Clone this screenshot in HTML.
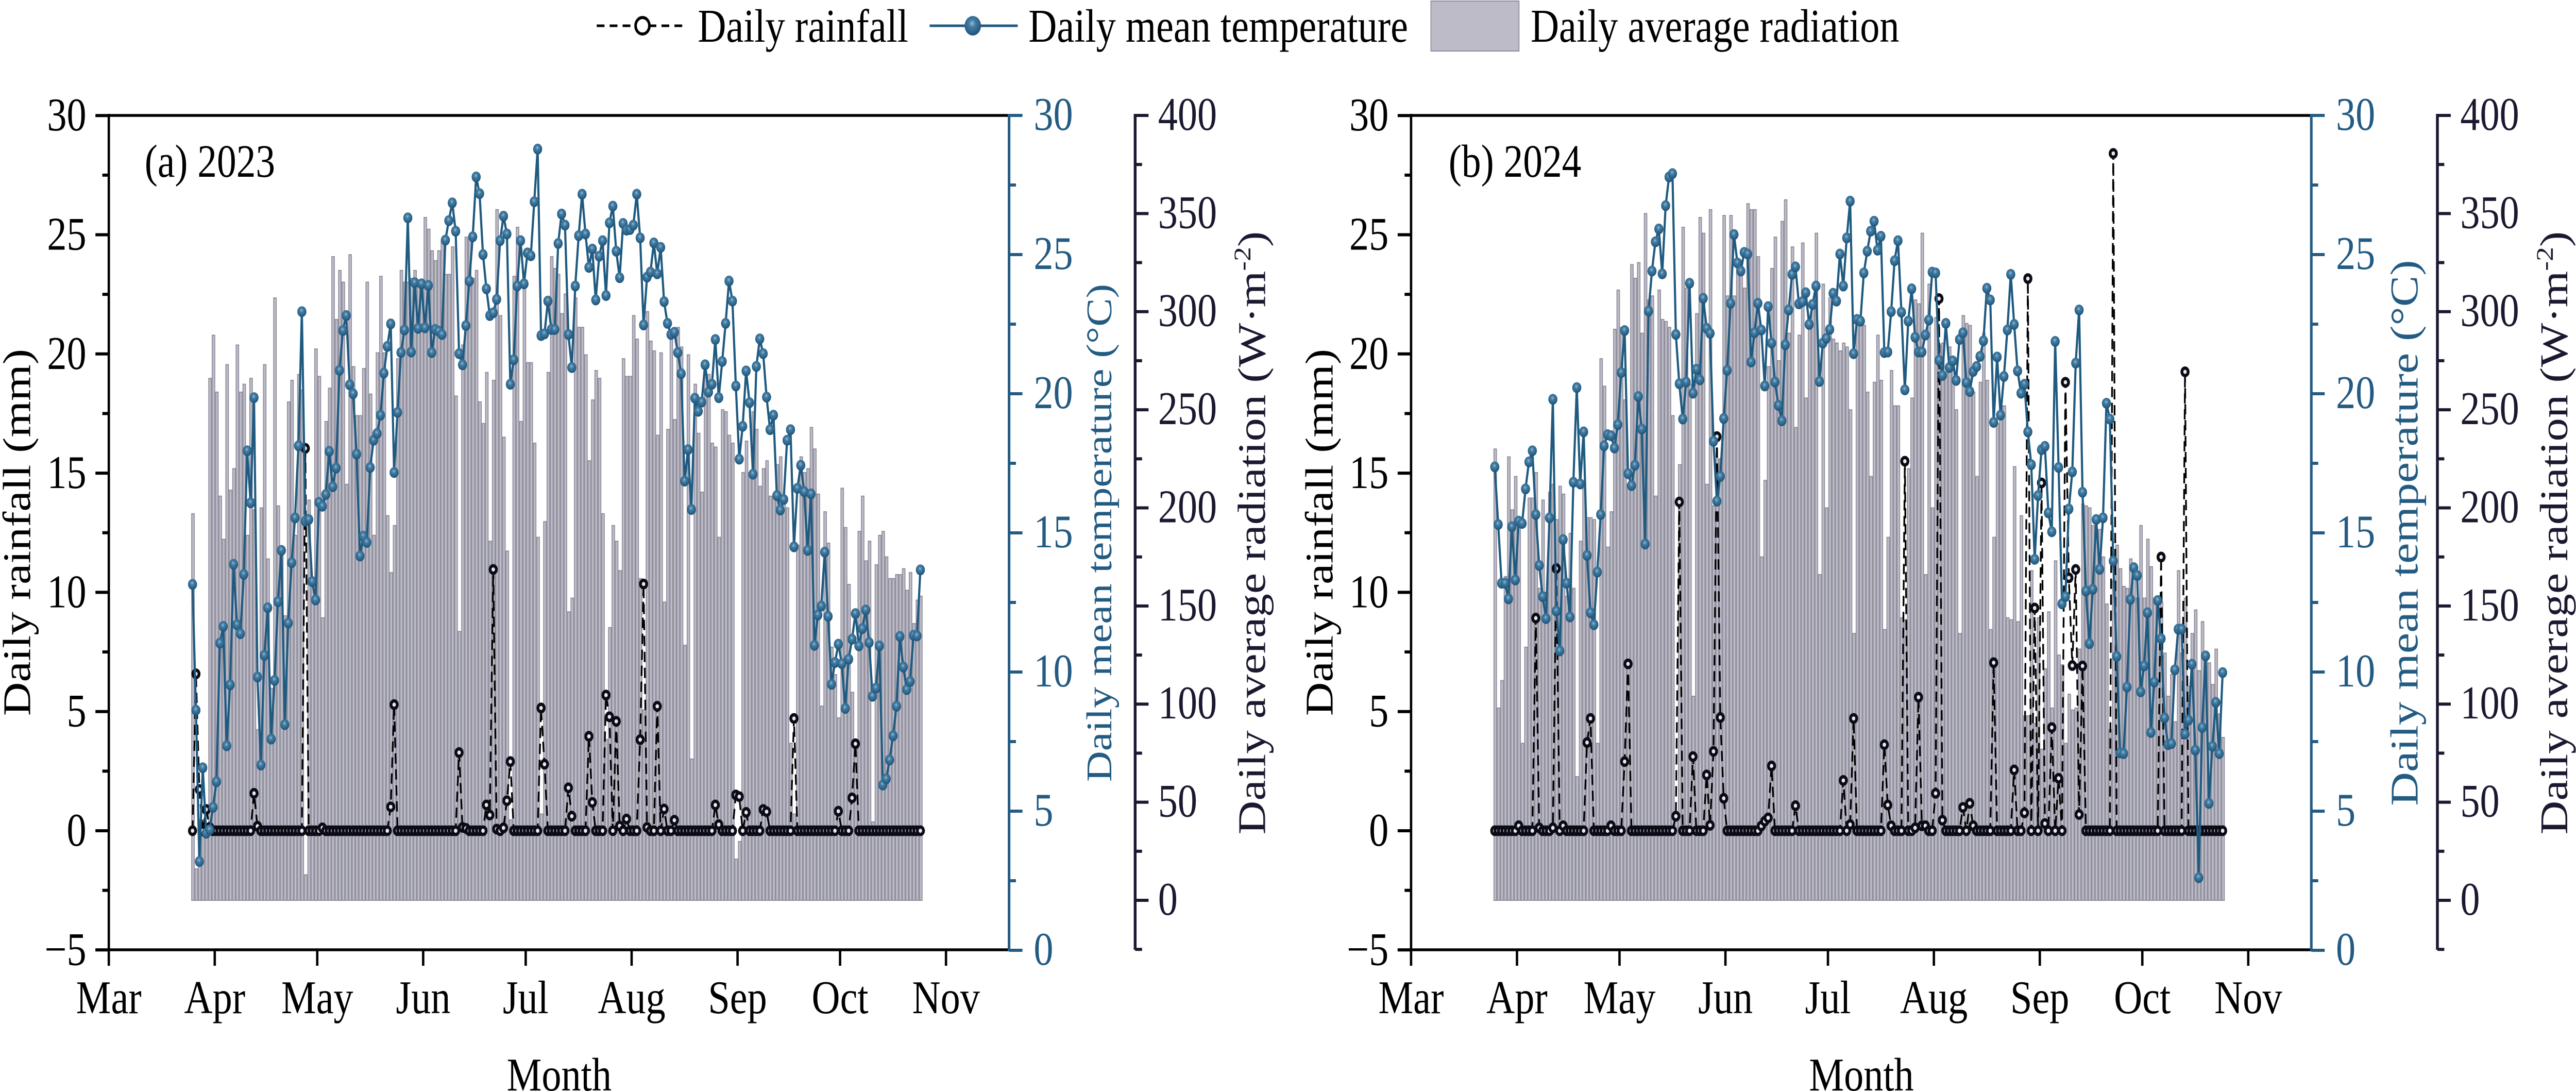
<!DOCTYPE html>
<html lang="en">
<head>
<meta charset="utf-8">
<title>Daily rainfall, temperature and radiation 2023-2024</title>
<style>
html,body{margin:0;padding:0;background:#fff;width:100vw;height:100vh;overflow:hidden;}
svg{display:block;width:100vw;height:100vh;overflow:hidden;}
text{font-family:"Liberation Serif",serif;}
</style>
</head>
<body>
<svg id="chart" xmlns="http://www.w3.org/2000/svg" viewBox="0 0 5966 2117" preserveAspectRatio="none">
<defs>
<radialGradient id="sphere" cx="0.46" cy="0.38" r="0.62">
<stop offset="0" stop-color="#9dbdd0"/>
<stop offset="0.3" stop-color="#447fa6"/>
<stop offset="1" stop-color="#1d5176"/>
</radialGradient>
</defs>
<rect x="0" y="0" width="5966" height="2117" fill="#ffffff"/>

<g>
<g>
<line x1="1382" y1="50" x2="1592" y2="50" stroke="#000" stroke-width="5" stroke-dasharray="18 12"/>
<circle cx="1488" cy="50" r="16" fill="#fff" stroke="#000" stroke-width="6"/>
<text x="1616" y="81" font-size="91" fill="#000">Daily rainfall</text>
</g>
<g>
<line x1="2153" y1="50" x2="2357" y2="50" stroke="#1f5a80" stroke-width="5"/>
<circle cx="2253" cy="50" r="19" fill="url(#sphere)"/>
<text x="2382" y="81" font-size="91" fill="#000">Daily mean temperature</text>
</g>
<g>
<rect x="3314" y="2" width="204" height="97" fill="#bdbbc8" stroke="#8e8c99" stroke-width="2"/>
<text x="3545" y="81" font-size="91" fill="#000">Daily average radiation</text>
</g>
</g>

<g id="panel-a">
<g id="plot-a"></g>
<text x="335" y="343" font-size="90" fill="#000">(a) 2023</text>
<text transform="translate(70,1033) rotate(-90)" text-anchor="middle" font-size="91" fill="#000">Daily rainfall (mm)</text>
<text transform="translate(2574,1034) rotate(-90)" text-anchor="middle" font-size="83" fill="#235b82">Daily mean temperature (°C)</text>
<text transform="translate(2930,1034) rotate(-90)" text-anchor="middle" font-size="91" fill="#1a1930">Daily average radiation (W·m<tspan font-size="56" dy="-34">-2</tspan><tspan dy="34">)</tspan></text>
<text x="1295" y="2116" text-anchor="middle" font-size="91" fill="#000">Month</text>
</g>

<g id="panel-b" transform="translate(3016,0)">
<g id="plot-b"></g>
<text x="339" y="343" font-size="90" fill="#000">(b) 2024</text>
<text transform="translate(70,1033) rotate(-90)" text-anchor="middle" font-size="91" fill="#000">Daily rainfall (mm)</text>
<text transform="translate(2583,1034) rotate(-90)" text-anchor="middle" font-size="91" fill="#235b82">Daily mean temperature (°C)</text>
<text transform="translate(2930,1034) rotate(-90)" text-anchor="middle" font-size="91" fill="#1a1930">Daily average radiation (W·m<tspan font-size="56" dy="-34">-2</tspan><tspan dy="34">)</tspan></text>
<text x="1295" y="2116" text-anchor="middle" font-size="91" fill="#000">Month</text>
</g>
</svg>

<script>
const monthLabels = ["Mar","Apr","May","Jun","Jul","Aug","Sep","Oct","Nov"];
const monthStartDays = [0,31,61,92,122,153,184,214,245];
const firstDataDay = 24.5;
const rainTicks = [-5,0,5,10,15,20,25,30];
const tempTicks = [0,5,10,15,20,25,30];
const radTicks = [0,50,100,150,200,250,300,350,400];

const rain2023 = [
0,6.58,1.73,0,.89,.14,0,0,0,0,
0,0,0,0,0,0,0,0,1.57,.19,
0,0,0,0,0,0,0,0,0,0,
0,0,0,16.04,0,0,0,0,.12,0,
0,0,0,0,0,0,0,0,0,0,
0,0,0,0,0,0,0,0,1,5.29,
0,0,0,0,0,0,0,0,0,0,
0,0,0,0,0,0,0,0,3.28,.14,
.1,0,0,0,0,0,1.08,.66,10.96,.07,
0,.12,1.26,2.9,0,0,0,0,0,0,
0,0,5.15,2.79,0,0,0,0,0,0,
1.8,.61,0,0,0,0,3.96,1.19,0,0,
0,5.69,4.78,0,4.59,.2,0,.49,0,0,
0,3.82,10.35,.14,0,0,5.22,0,.91,0,
0,.44,0,0,0,0,0,0,0,0,
0,0,0,1.08,.26,0,0,0,0,1.5,
1.43,0,.77,0,0,0,0,.89,.8,0,
0,0,0,0,0,0,4.71,0,0,0,
0,0,0,0,0,0,0,0,0,.82,
0,0,0,1.38,3.65,0,0,0,0,0,
0,0,0,0,0,0,0,0,0,0,
0,0,0,0];

const temp2023 = [
13.15,8.63,3.19,6.56,4.21,4.33,5.14,6.06,11.04,11.64,
7.35,9.54,13.87,11.7,11.38,13.51,17.95,16.08,19.86,9.82,
6.66,10.6,12.31,7.59,9.7,12.53,14.37,8.11,11.76,13.93,
15.54,18.13,22.95,15.42,15.48,13.25,12.59,16.1,15.96,16.38,
17.93,16.66,17.33,20.84,22.27,22.81,20.32,20,17.83,14.17,
14.88,14.66,17.35,18.33,18.57,19.23,20.74,21.7,22.51,17.17,
19.33,21.48,22.29,26.32,21.5,23.99,22.35,23.95,22.37,23.89,
21.48,22.31,22.25,22.13,25.52,26.22,26.86,25.84,21.44,21.04,
22.45,24.05,25.64,27.79,27.19,25,23.77,22.81,22.91,23.39,
25.5,26.38,25.74,20.34,21.22,23.87,25.5,23.95,25.06,24.96,
26.9,28.79,22.09,22.15,23.33,22.31,22.31,25.4,26.46,26.06,
22.13,20.94,23.87,25.68,27.17,25.74,24.54,25.2,23.37,24.94,
25.5,23.53,26.14,26.74,25.12,24.17,26.12,25.88,25.9,26.06,
27.17,25.6,22.47,24.19,24.37,25.42,24.31,25.26,23.31,22.53,
22.13,22.21,21.48,20.72,16.86,17.99,15.84,19.84,19.37,19.7,
21.04,20.06,20.34,21.95,19.86,21.16,22.53,24.05,23.33,20.28,
17.65,18.83,20.82,19.68,17.11,20.98,21.97,21.44,19.88,18.71,
19.23,16.34,15.82,16.2,18.33,18.71,14.5,16.6,17.43,16.48,
14.37,16.4,10.96,12.05,12.37,14.31,12,9.56,10.34,11,
10.3,8.69,10.46,11.18,12.1,10.94,11.56,12.23,11.06,9.13,
9.42,10.94,5.94,6.16,6.84,7.71,8.77,11.28,10.18,9.37,
9.66,11.32,11.3,13.67];

const rad2023 = [
197,16,41,41,38,266,288,259,206,184,
273,209,220,283,259,263,186,266,199,87,
200,273,174,108,307,201,179,145,254,265,
186,268,260,13,204,164,281,267,144,244,
261,328,296,321,315,212,329,272,247,247,
271,315,258,186,279,318,279,196,167,191,
276,321,315,315,317,321,314,314,348,342,
331,326,331,336,319,319,333,257,137,283,
338,337,317,321,254,243,269,183,265,352,
298,236,178,41,318,343,244,315,274,274,
233,185,44,193,269,328,322,319,299,309,
147,154,307,292,292,278,224,255,270,266,
197,82,139,191,183,168,276,267,267,298,
286,164,97,300,285,280,237,279,152,240,
289,245,292,282,130,278,72,263,238,208,
269,268,233,231,185,250,249,237,233,21,
30,218,234,218,249,240,211,220,224,206,
206,222,226,203,200,80,44,181,226,218,
220,241,230,207,99,198,182,129,115,93,
210,190,161,106,80,188,206,173,183,40,
171,186,188,175,164,164,166,166,169,158,
167,141,153,155];

const rain2024 = [
0,0,0,0,0,0,0,.21,0,0,
0,0,8.92,.12,0,0,0,.12,11,0,
.21,0,0,0,0,0,0,3.7,4.71,0,
0,0,0,0,.21,0,0,0,2.9,7,
0,0,0,0,0,0,0,0,0,0,
0,0,0,.61,13.79,0,0,0,3.11,0,
0,0,2.34,.23,3.33,16.53,4.75,1.36,0,0,
0,0,0,0,0,0,0,0,.2,.4,
.54,2.72,0,0,0,0,0,0,1.05,0,
0,0,0,0,0,0,0,0,0,0,
0,0,2.11,0,.26,4.71,0,0,0,0,
0,0,0,0,3.61,1.08,.21,0,0,0,
15.5,0,0,.12,5.6,.21,.21,0,0,1.57,
22.32,.44,0,0,0,0,0,.98,0,1.15,
.21,0,0,0,0,0,7.05,0,0,0,
0,0,2.55,0,0,.75,23.16,0,9.34,0,
14.59,.3,0,4.33,0,2.2,0,18.81,10.61,6.93,
10.96,.68,6.91,0,0,0,0,0,0,0,
0,28.41,0,0,0,0,0,0,0,0,
0,0,0,0,0,11.48,0,0,0,0,
0,0,19.25,0,0,0,0,0,0,0,
0,0,0,0];

const temp2024 = [
17.37,15.3,13.19,13.19,12.63,15.22,13.31,15.42,15.34,16.58,
17.55,17.95,15.66,13.83,12.71,11.92,15.54,19.8,12.19,10.76,
14.76,13.19,11.98,16.82,20.22,16.76,18.63,14.19,12.13,11.7,
13.59,15.66,18.13,18.53,18.49,18.05,18.89,20.76,22.27,17.13,
16.7,17.43,19.9,18.73,14.6,22.97,24.41,25.46,25.92,24.31,
26.76,27.79,27.91,22.13,20.36,19.09,20.42,23.97,20.02,20.88,
20.5,23.43,22.35,22.17,18.29,16.14,17.03,19.11,20.84,23.25,
25.72,24.7,24.41,25.08,25.02,21.14,22.19,23.25,22.29,20.28,
23.13,21.82,20.42,19.58,19.03,21.76,23.01,24.29,24.56,23.23,
23.31,23.63,22.49,23.21,23.87,20.44,21.82,21.99,22.31,23.61,
23.33,25.02,23.87,25.6,26.92,21.44,22.67,22.61,24.34,25.12,
25.84,26.2,25.16,25.66,21.48,21.5,22.95,24.78,25.5,22.93,
20.14,22.61,23.77,22.03,21.5,21.5,22.11,22.65,24.37,24.34,
21.2,20.66,22.53,20.94,21.18,20.48,21.95,22.19,20.4,20.08,
20.8,20.98,21.34,21.9,23.79,23.37,18.97,21.32,19.23,20.62,
22.29,24.29,22.49,20.82,20.02,20.34,18.63,17.45,14.05,16.34,
17.99,18.11,15.72,15.04,21.88,17.35,12.45,12.71,15.86,17.19,
21.1,23.01,16.46,12.91,11.02,12.97,15.48,13.69,15.54,19.66,
19.09,13.99,10.56,7.09,7.07,9.46,12.61,13.75,13.47,9.29,
10.22,12.13,7.83,9.64,12.57,11.2,8.35,7.39,7.43,10.08,
11.54,11.54,7.77,8.27,10.28,7.19,2.61,8.01,10.58,5.28,
7.33,8.91,7.07,9.98];

const rad2024 = [
230,98,112,165,226,199,216,195,80,129,
205,205,218,159,204,157,208,212,194,211,
207,155,187,159,63,183,210,195,195,194,
80,276,262,180,198,291,311,292,255,212,
324,317,325,289,350,306,308,206,311,296,
295,292,247,43,222,343,312,263,104,299,
348,340,212,352,201,225,225,349,308,349,
308,326,326,312,355,352,352,328,175,214,
272,322,338,275,346,357,289,333,241,288,
335,256,294,303,340,166,314,200,307,286,
284,280,284,282,250,136,297,294,293,259,
216,264,288,265,138,185,270,252,252,144,
143,220,256,306,304,340,166,314,200,297,
283,284,269,282,277,250,136,298,294,293,
259,216,264,289,265,138,185,243,252,252,
144,143,221,142,196,94,94,168,90,144,
77,118,147,98,173,125,120,80,105,97,
98,128,202,201,200,191,189,189,175,151,
87,163,181,169,160,159,174,171,154,191,
154,184,170,154,149,152,126,104,115,91,
168,126,154,109,136,148,117,142,122,121,
110,128,95,83];

const LEFT = 252, RIGHT = 2337, TOP = 224, BOTTOM = 1843, RAD_AXIS = 2629;
const TEMP_COLOR = "#235b82", RAD_COLOR = "#1a1930", SVGNS = "http://www.w3.org/2000/svg";

function xDay(d){ return LEFT + d * 7.914; }
function yRain(v){ return 1612 - v * 46.26; }
function yTemp(v){ return 1844 - v * 54; }
function yRad(v){ return 1747 - v * 3.8075; }

function makeLine(parent, x1, y1, x2, y2, color, width){
  const l = document.createElementNS(SVGNS, "line");
  l.setAttribute("x1", x1);
  l.setAttribute("y1", y1);
  l.setAttribute("x2", x2);
  l.setAttribute("y2", y2);
  l.setAttribute("stroke", color);
  l.setAttribute("stroke-width", width);
  parent.appendChild(l);
  return l;
}
function makeText(parent, x, y, str, color, anchor){
  const t = document.createElementNS(SVGNS, "text");
  t.setAttribute("x", x);
  t.setAttribute("y", y);
  t.setAttribute("font-size", 91);
  t.setAttribute("fill", color);
  t.setAttribute("text-anchor", anchor);
  t.textContent = str;
  parent.appendChild(t);
  return t;
}
function pathFrom(values, scale){
  let d = "";
  values.forEach(function(v, i){
    d += (i ? "L" : "M") + xDay(firstDataDay + i).toFixed(1) + " " + scale(v).toFixed(1);
  });
  return d;
}

function drawAxes(g){
  const frameTop = makeLine(g, LEFT - 2.5, TOP, RIGHT, TOP, "#000", 5.5);
  
  
  const frameBottom = makeLine(g, LEFT - 31, BOTTOM, RIGHT, BOTTOM, "#000", 5.5);
  
  
  const leftSpine = makeLine(g, LEFT, TOP - 3, LEFT, BOTTOM + 2, "#000", 5.5);
  
  

  monthLabels.forEach(function(m, i){
    const x = xDay(monthStartDays[i]);
    const tick = makeLine(g, x, BOTTOM, x, BOTTOM + 31, "#000", 5.5);
    
    
    const label = makeText(g, x, 1966, m, "#000", "middle");
    
    
  });

  rainTicks.forEach(function(v, i){
    const y = yRain(v);
    const tick = makeLine(g, LEFT - 31, y, LEFT, y, "#000", 6);
    
    
    const label = makeText(g, 200, y + 29, v < 0 ? "\u2212" + (-v) : String(v), "#000", "end");
    
    
    if (i < rainTicks.length - 1){
      const ym = yRain((v + rainTicks[i + 1]) / 2);
      const minor = makeLine(g, LEFT - 15, ym, LEFT, ym, "#000", 6);
      
      
    }
  });

  const tempSpine = makeLine(g, RIGHT, TOP - 3, RIGHT, BOTTOM + 3, TEMP_COLOR, 6);
  
  
  tempTicks.forEach(function(v, i){
    const y = yTemp(v);
    const tick = makeLine(g, RIGHT, y, RIGHT + 31, y, TEMP_COLOR, 6);
    
    
    const label = makeText(g, 2394, y + 28, String(v), TEMP_COLOR, "start");
    
    
    if (i < tempTicks.length - 1){
      const ym = yTemp((v + tempTicks[i + 1]) / 2);
      const minor = makeLine(g, RIGHT, ym, RIGHT + 16, ym, TEMP_COLOR, 6);
      
      
    }
  });

  const radSpine = makeLine(g, RAD_AXIS, TOP - 3, RAD_AXIS, BOTTOM, RAD_COLOR, 6.5);
  
  
  radTicks.forEach(function(v, i){
    const y = yRad(v);
    const tick = makeLine(g, RAD_AXIS, y, RAD_AXIS + 31, y, RAD_COLOR, 6);
    
    
    const label = makeText(g, 2682, y + 28, String(v), RAD_COLOR, "start");
    
    
    const step = i < radTicks.length - 1 ? radTicks[i + 1] - v : 0;
    if (step){
      const ym = yRad(v + step / 2);
      const minor = makeLine(g, RAD_AXIS, ym, RAD_AXIS + 16, ym, RAD_COLOR, 6);
      
      
    }
  });
  const lowest = yRad(radTicks[0] - (radTicks[1] - radTicks[0]) / 2);
  const bottomMinor = makeLine(g, RAD_AXIS, lowest, RAD_AXIS + 16, lowest, RAD_COLOR, 6);
  
  
}

function drawSeries(g, rain, temp, rad){
  rad.forEach(function(v, i){
    const bar = document.createElementNS(SVGNS, "rect");
    
    
    bar.setAttribute("x", (xDay(firstDataDay + i) + 1 - 3).toFixed(1));
    bar.setAttribute("y", yRad(v).toFixed(1));
    bar.setAttribute("width", 6);
    bar.setAttribute("height", (yRad(0) - yRad(v)).toFixed(1));
    bar.setAttribute("fill", "#bdbcc8");
    bar.setAttribute("stroke", "#8f8e9b");
    bar.setAttribute("stroke-width", 2);
    g.appendChild(bar);
  });

  const rainPath = document.createElementNS(SVGNS, "path");
  
  
  rainPath.setAttribute("d", pathFrom(rain, yRain));
  rainPath.setAttribute("fill", "none");
  rainPath.setAttribute("stroke", "#000");
  rainPath.setAttribute("stroke-width", 4);
  rainPath.setAttribute("stroke-dasharray", "20 11");
  g.appendChild(rainPath);

  rain.forEach(function(v, i){
    const dot = document.createElementNS(SVGNS, "circle");
    
    
    dot.setAttribute("cx", xDay(firstDataDay + i).toFixed(1));
    dot.setAttribute("cy", yRain(v).toFixed(1));
    dot.setAttribute("r", 7.25);
    dot.setAttribute("fill", "#e9e9ec");
    dot.setAttribute("stroke", "#0b0b16");
    dot.setAttribute("stroke-width", 6.5);
    g.appendChild(dot);
  });

  const tempPath = document.createElementNS(SVGNS, "path");
  
  
  tempPath.setAttribute("d", pathFrom(temp, yTemp));
  tempPath.setAttribute("fill", "none");
  tempPath.setAttribute("stroke", "#1f5a80");
  tempPath.setAttribute("stroke-width", 5);
  g.appendChild(tempPath);

  temp.forEach(function(v, i){
    const dot = document.createElementNS(SVGNS, "circle");
    
    
    dot.setAttribute("cx", xDay(firstDataDay + i).toFixed(1));
    dot.setAttribute("cy", yTemp(v).toFixed(1));
    dot.setAttribute("r", 10.5);
    dot.setAttribute("fill", "url(#sphere)");
    g.appendChild(dot);
  });
}

const plotA = document.getElementById("plot-a");
const plotB = document.getElementById("plot-b");
drawSeries(plotA, rain2023, temp2023, rad2023);
drawAxes(plotA);
drawSeries(plotB, rain2024, temp2024, rad2024);
drawAxes(plotB);
</script>
</body>
</html>
